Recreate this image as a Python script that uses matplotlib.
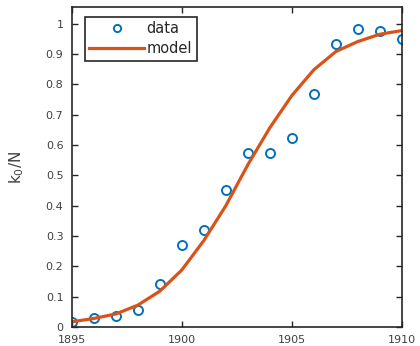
import numpy as np
import matplotlib
matplotlib.use("Agg")
import matplotlib.pyplot as plt

# Observed fraction and fitted logistic model, by year
years = [1895, 1896, 1897, 1898, 1899, 1900, 1901, 1902, 1903, 1904,
         1905, 1906, 1907, 1908, 1909, 1910]
data = [0.016, 0.030, 0.036, 0.056, 0.142, 0.270, 0.320, 0.452, 0.574, 0.574,
        0.624, 0.769, 0.934, 0.983, 0.977, 0.950]
model = [0.017, 0.028, 0.043, 0.072, 0.118, 0.188, 0.285, 0.400, 0.535, 0.657,
         0.763, 0.848, 0.908, 0.941, 0.965, 0.977]
xticks = [1895, 1900, 1905, 1910]
yticks = [0, 0.1, 0.2, 0.3, 0.4, 0.5, 0.6, 0.7, 0.8, 0.9, 1]
ytick_labels = ["0", "0.1", "0.2", "0.3", "0.4", "0.5", "0.6", "0.7", "0.8", "0.9", "1"]

BLUE = "#0072BD"
ORANGE = "#D95319"
AXIS = "#262626"
TEXT = "#404040"

plt.rcParams["font.family"] = ["DejaVu Sans"]

fig = plt.figure(figsize=(4.2, 3.46), dpi=100)
ax = fig.add_axes([0.171, 0.055, 0.786, 0.925])

ax.plot(years, data, "o", mfc="none", mec=BLUE, mew=1.4, ms=6.5, label="data")
ax.plot(years, model, "-", color=ORANGE, lw=2.3, label="model")

ax.set_xlim(1895, 1910)
ax.set_ylim(0, 1.055)
ax.set_xticks(xticks)
ax.set_yticks(yticks)
ax.set_yticklabels(ytick_labels)
ax.tick_params(direction="in", length=4, width=1, labelsize=8, colors=AXIS,
               labelcolor=TEXT, top=True, right=True, pad=6)
for spine in ax.spines.values():
    spine.set_color(AXIS)
    spine.set_linewidth(1.2)

ax.set_ylabel("k$_0$/N", fontsize=11, color=TEXT)
ax.yaxis.set_label_coords(-0.14, 0.5)

leg = ax.legend(loc="upper left", bbox_to_anchor=(0.039, 0.969), fontsize=10.5,
                fancybox=False, framealpha=1, edgecolor=AXIS, handlelength=3.8,
                borderpad=0.3, borderaxespad=0, labelspacing=0.35,
                handletextpad=0.15, markerscale=0.8)
leg.get_frame().set_linewidth(1.2)
for t in leg.get_texts():
    t.set_color(AXIS)

fig.savefig("out.png", dpi=100, facecolor="white")
